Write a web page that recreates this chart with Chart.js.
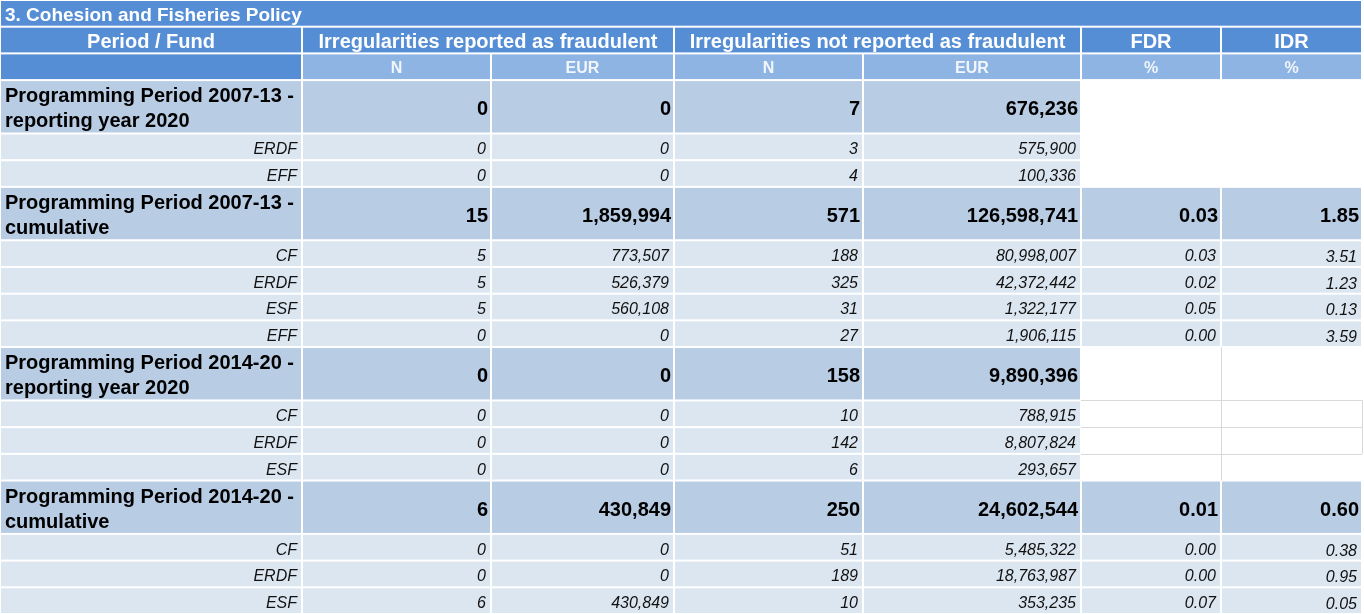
<!DOCTYPE html>
<html>
<head>
<meta charset="utf-8">
<title>Cohesion and Fisheries Policy</title>
<script src="https://cdn.jsdelivr.net/npm/chart.js@4.4.1/dist/chart.umd.min.js"></script>
<style>
    html, body { margin: 0; padding: 0; background: #fff; }
    #wrap { width: 1364px; height: 614px; }
</style>
</head>
<body>
<div id="wrap"><canvas id="table-chart"></canvas></div>
<script>
// --- Data ---
const title = '3. Cohesion and Fisheries Policy';
const groupHeaders = ['Period / Fund', 'Irregularities reported as fraudulent', 'Irregularities not reported as fraudulent', 'FDR', 'IDR'];
const unitHeaders = ['', 'N', 'EUR', 'N', 'EUR', '%', '%'];

const rowLabels = [
    ['Programming Period 2007-13 -', 'reporting year 2020'], 'ERDF', 'EFF',
    ['Programming Period 2007-13 -', 'cumulative'], 'CF', 'ERDF', 'ESF', 'EFF',
    ['Programming Period 2014-20 -', 'reporting year 2020'], 'CF', 'ERDF', 'ESF',
    ['Programming Period 2014-20 -', 'cumulative'], 'CF', 'ERDF', 'ESF'
];
const rowIsTotal = [true, false, false, true, false, false, false, false, true, false, false, false, true, false, false, false];

const fraudN = [0, 0, 0, 15, 5, 5, 5, 0, 0, 0, 0, 0, 6, 0, 0, 6];
const fraudEur = [0, 0, 0, 1859994, 773507, 526379, 560108, 0, 0, 0, 0, 0, 430849, 0, 0, 430849];
const nonFraudN = [7, 3, 4, 571, 188, 325, 31, 27, 158, 10, 142, 6, 250, 51, 189, 10];
const nonFraudEur = [676236, 575900, 100336, 126598741, 80998007, 42372442, 1322177, 1906115, 9890396, 788915, 8807824, 293657, 24602544, 5485322, 18763987, 353235];
const fdr = [null, null, null, 0.03, 0.03, 0.02, 0.05, 0.00, null, null, null, null, 0.01, 0.00, 0.00, 0.07];
const idr = [null, null, null, 1.85, 3.51, 1.23, 0.13, 3.59, null, null, null, null, 0.60, 0.38, 0.95, 0.05];

// --- Layout (scale units) ---
const colEdges = [0, 302, 491, 674, 863, 1081, 1221, 1362];
const headerSpans = [[0, 1], [1, 3], [3, 5], [5, 6], [6, 7]];
const ruledBlankRows = [8, 9, 10, 11]; // white area that still shows sheet gridlines

const COLORS = {
    header: '#558ED5',
    unit: '#8DB4E2',
    total: '#B8CCE4',
    sub: '#DCE6F1',
    grid: '#D9D9D9'
};
const FONT = '"Liberation Sans", Arial, sans-serif';

// row start positions: 3 header rows, totals are 2 units tall
const rowStart = [];
let acc = 3;
rowIsTotal.forEach(t => { rowStart.push(acc); acc += t ? 2 : 1; });
const totalUnits = acc;

const fmtInt = v => v.toLocaleString('en-US');
const fmtPct = v => v.toFixed(2);

function cellValues(r) {
    return [
        rowLabels[r],
        fmtInt(fraudN[r]), fmtInt(fraudEur[r]),
        fmtInt(nonFraudN[r]), fmtInt(nonFraudEur[r]),
        fdr[r] === null ? null : fmtPct(fdr[r]),
        idr[r] === null ? null : fmtPct(idr[r])
    ];
}

// --- Plugin drawing the cells through the chart scales ---
const tablePlugin = {
    id: 'tableCells',
    beforeDatasetsDraw(chart) {
        const { ctx, scales: { x, y } } = chart;
        const px = v => x.getPixelForValue(v);
        const py = v => y.getPixelForValue(v);

        function box(c0, c1, r0, r1, color) {
            const x0 = px(colEdges[c0]), x1 = px(colEdges[c1]);
            const y0 = py(r0), y1 = py(r1);
            ctx.fillStyle = color;
            ctx.fillRect(x0 + 1, y0 + 1, x1 - x0 - 2, y1 - y0 - 2);
            return { x0, x1, y0, y1 };
        }

        function text(str, xp, yp, font, color, align) {
            ctx.font = font;
            ctx.fillStyle = color;
            ctx.textAlign = align;
            ctx.textBaseline = 'middle';
            ctx.fillText(str, xp, yp);
        }

        ctx.save();

        // title bar
        let b = box(0, 7, 0, 1, COLORS.header);
        text(title, b.x0 + 5, (b.y0 + b.y1) / 2 + 2, `bold 19px ${FONT}`, '#fff', 'left');

        // group headers
        headerSpans.forEach((s, i) => {
            b = box(s[0], s[1], 1, 2, COLORS.header);
            text(groupHeaders[i], (b.x0 + b.x1) / 2, (b.y0 + b.y1) / 2 + 2, `bold 20px ${FONT}`, '#fff', 'center');
        });

        // unit row
        unitHeaders.forEach((u, c) => {
            b = box(c, c + 1, 2, 3, c === 0 ? COLORS.header : COLORS.unit);
            if (u) text(u, (b.x0 + b.x1) / 2, (b.y0 + b.y1) / 2 + 2, `bold 16px ${FONT}`, '#F2F6FB', 'center');
        });

        // sheet gridlines in the blank 2014-20 block
        ctx.strokeStyle = COLORS.grid;
        ctx.lineWidth = 1;
        const gTop = rowStart[ruledBlankRows[0]];
        const last = ruledBlankRows[ruledBlankRows.length - 1];
        const gBottom = rowStart[last] + 1;
        ctx.beginPath();
        ruledBlankRows.slice(1).forEach(r => {
            const yy = Math.round(py(rowStart[r])) + 0.5;
            ctx.moveTo(px(colEdges[5]), yy);
            ctx.lineTo(px(colEdges[7]), yy);
        });
        const xv = Math.round(px(colEdges[6])) + 0.5;
        ctx.moveTo(xv, py(gTop));
        ctx.lineTo(xv, py(gBottom));
        const xr = Math.round(px(colEdges[7])) + 0.5;
        ctx.moveTo(xr, py(rowStart[ruledBlankRows[1]]));
        ctx.lineTo(xr, py(rowStart[last]));
        ctx.stroke();

        // data rows
        rowLabels.forEach((_, r) => {
            const total = rowIsTotal[r];
            const r0 = rowStart[r], r1 = r0 + (total ? 2 : 1);
            const vals = cellValues(r);
            vals.forEach((v, c) => {
                if (v === null) return;
                b = box(c, c + 1, r0, r1, total ? COLORS.total : COLORS.sub);
                const mid = (b.y0 + b.y1) / 2;
                if (c === 0) {
                    if (total) {
                        text(v[0], b.x0 + 5, mid - 10, `bold 20px ${FONT}`, '#000', 'left');
                        text(v[1], b.x0 + 5, mid + 15, `bold 20px ${FONT}`, '#000', 'left');
                    } else {
                        text(v, b.x1 - 5, mid + 3, `italic 16px ${FONT}`, '#111', 'right');
                    }
                } else if (total) {
                    text(v, b.x1 - 3, mid + 3, `bold 20px ${FONT}`, '#000', 'right');
                } else {
                    text(v, b.x1 - 5, mid + (c === 6 ? 4 : 3), `italic 16px ${FONT}`, '#111', 'right');
                }
            });
        });

        ctx.restore();
    }
};

// --- Chart ---
new Chart(document.getElementById('table-chart'), {
    type: 'scatter',
    data: { datasets: [] },
    options: {
        responsive: true,
        maintainAspectRatio: false,
        animation: false,
        layout: { padding: 0 },
        plugins: { legend: { display: false }, tooltip: { enabled: false } },
        scales: {
            x: { type: 'linear', min: 0, max: 1364, display: false },
            y: { type: 'linear', min: 0, max: totalUnits, reverse: true, display: false }
        }
    },
    plugins: [tablePlugin]
});
</script>
</body>
</html>
